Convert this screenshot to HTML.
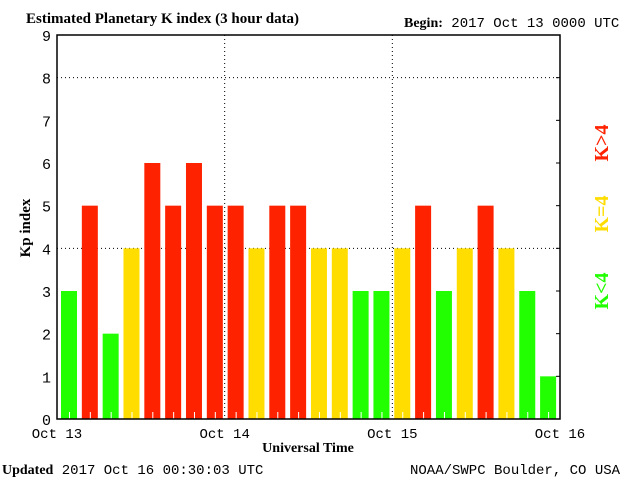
<!DOCTYPE html>
<html><head><meta charset="utf-8"><style>
body{margin:0;background:#fff;width:640px;height:480px;overflow:hidden}
svg text{font-family:"Liberation Mono","DejaVu Sans Mono",monospace}
.s{font-family:"Liberation Serif",serif;font-weight:bold}
</style></head><body>
<svg id="c" width="640" height="480">
<text class="s" x="26" y="23" font-size="15">Estimated Planetary K index (3 hour data)</text>
<text x="404" y="27" font-size="14"><tspan class="s">Begin:</tspan> 2017 Oct 13 0000 UTC</text>
<text class="s" x="30" y="228" font-size="15" transform="rotate(-90 30 228)" text-anchor="middle">Kp index</text>
<text class="s" x="308" y="452" font-size="14" text-anchor="middle">Universal Time</text>
<text x="2" y="474" font-size="14"><tspan class="s">Updated</tspan> 2017 Oct 16 00:30:03 UTC</text>
<text x="410" y="474" font-size="14">NOAA/SWPC Boulder, CO USA</text>
<text class="s" x="608" y="143" font-size="20" fill="#ff2200" transform="rotate(-90 608 143)" text-anchor="middle">K&gt;4</text>
<text class="s" x="608" y="214" font-size="20" fill="#ffdd00" transform="rotate(-90 608 214)" text-anchor="middle">K=4</text>
<text class="s" x="608" y="291" font-size="20" fill="#22ff00" transform="rotate(-90 608 291)" text-anchor="middle">K&lt;4</text>
<g id="g"></g>
</svg>
<script>
const kpValues=[3,5,2,4,6,5,6,5,5,4,5,5,4,4,3,3,4,5,3,4,5,4,3,1];
const yTicks=[0,1,2,3,4,5,6,7,8,9];
const dayLabels=["Oct 13","Oct 14","Oct 15","Oct 16"];
const L=57,R=560,T=35,B=419;
const y=v=>B-(B-T)*v/9;
const slot=20.83;
const xd=i=>L+(R-L)*i/3;
const g=document.getElementById('g');
const NS='http://www.w3.org/2000/svg';
function mk(t,a){const e=document.createElementNS(NS,t);for(const k in a)e.setAttribute(k,a[k]);g.appendChild(e);return e;}
[4,8].forEach(v=>{const e=mk('line',{x1:L,x2:R,y1:y(v),y2:y(v),stroke:'#000','stroke-dasharray':'1,3'});

});
[1,2].forEach(d=>{const e=mk('line',{x1:xd(d),x2:xd(d),y1:T,y2:B,stroke:'#000','stroke-dasharray':'1,3'});

});
kpValues.forEach((v,i)=>{const c=v<4?'#22ff00':v==4?'#ffdd00':'#ff2200';const x=61+i*slot;
const r=mk('rect',{x:x,y:y(v),width:16,height:B-y(v),fill:c});


const w=mk('line',{x1:x+8.5,x2:x+8.5,y1:B-7,y2:B,stroke:'#fff'});

});
const ax=mk('rect',{x:L,y:T,width:R-L,height:B-T,fill:'none',stroke:'#000','stroke-width':1.5});


yTicks.forEach(v=>{const t=mk('text',{x:L-6,y:y(v)+6,'font-size':15,'text-anchor':'end'});t.textContent=v;


const k=mk('line',{x1:R-4,x2:R,y1:y(v),y2:y(v),stroke:'#000'});

});
dayLabels.forEach((d,i)=>{const t=mk('text',{x:xd(i),y:438,'font-size':14,'text-anchor':'middle'});t.textContent=d;

});
</script>
</body></html>
